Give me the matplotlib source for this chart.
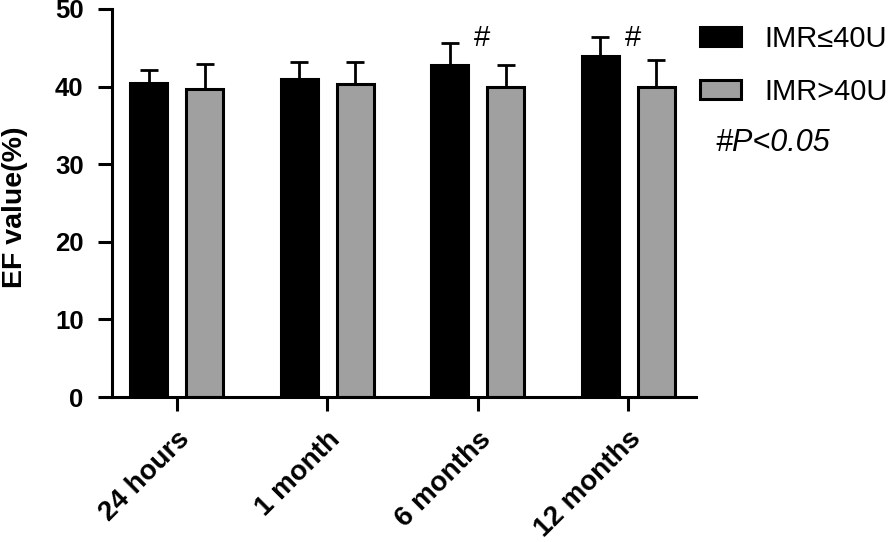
import numpy as np
import matplotlib
matplotlib.use("Agg")
import matplotlib.pyplot as plt
from matplotlib.transforms import ScaledTranslation

plt.rcParams['font.family'] = ['Liberation Sans', 'DejaVu Sans']

# data
timepoints = ["24 hours", "1 month", "6 months", "12 months"]
imr_low = [40.5, 41.0, 42.8, 43.9]       # IMR<=40U mean
imr_low_err = [1.6, 2.2, 2.8, 2.5]
imr_high = [39.7, 40.3, 40.0, 40.0]      # IMR>40U mean
imr_high_err = [3.2, 2.9, 2.8, 3.4]
significant = [False, False, True, True]
yticks = [0, 10, 20, 30, 40, 50]

fig = plt.figure(figsize=(8.96, 5.42), dpi=100)
ax = fig.add_axes([0.125, 0.2675, 0.652, 0.716])

x = np.arange(len(timepoints))
w = 0.245
off = 0.186
err_kw = dict(ecolor='black', elinewidth=2, capsize=6.5, capthick=2)

ax.bar(x - off, imr_low, w, color='black', edgecolor='black', linewidth=2.2,
       yerr=[np.zeros(4), imr_low_err], error_kw=err_kw, label='IMR≤40U')
ax.bar(x + off, imr_high, w, color='#a0a0a0', edgecolor='black', linewidth=2.2,
       yerr=[np.zeros(4), imr_high_err], error_kw=err_kw, label='IMR>40U')

# mark significant differences
for i, sig in enumerate(significant):
    if sig:
        ax.text(x[i] + 0.03, 46.2, '#', fontsize=21, ha='center', va='center')

ax.set_xlim(-0.43, 3.45)
ax.set_ylim(0, 50)
ax.set_yticks(yticks)
ax.set_xticks(x)
ax.set_xticklabels(timepoints, rotation=45, ha='right', rotation_mode='anchor',
                   fontsize=20, fontweight='bold')
shift = ScaledTranslation(3 / 72, 0, fig.dpi_scale_trans)
for lab in ax.get_xticklabels():
    lab.set_transform(lab.get_transform() + shift)
for lab in ax.get_yticklabels():
    lab.set_fontsize(18.5)
    lab.set_fontweight('bold')
ax.set_ylabel('EF value(%)', fontsize=20.5, fontweight='bold')
ax.yaxis.set_label_coords(-0.143, 0.49)

for s in ['top', 'right']:
    ax.spines[s].set_visible(False)
for s in ['left', 'bottom']:
    ax.spines[s].set_linewidth(2.2)
ax.tick_params(axis='both', width=2.2, length=10)
ax.tick_params(axis='y', pad=10.5)
ax.tick_params(axis='x', pad=11)

fig.legend(loc='upper left', bbox_to_anchor=(700 / 896, 1 - 25 / 542),
           frameon=False, fontsize=21, handlelength=1.4, handleheight=0.6,
           handletextpad=0.8, labelspacing=0.85, borderpad=0, borderaxespad=0)
fig.text(715 / 896, 1 - 143 / 542, '#P<0.05', fontsize=22, style='italic',
         va='center', ha='left')

fig.savefig('out.png', dpi=100)
